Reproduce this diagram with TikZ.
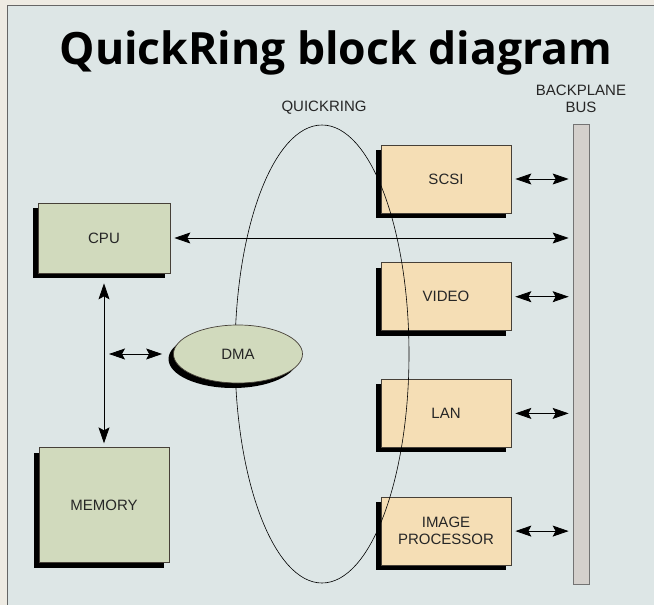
\documentclass[tikz,border=0pt]{standalone}
\usepackage{fontspec}
\setmainfont{Liberation Sans}
\newfontfamily\titlefont{Open Sans}
\usepackage{xcolor}
\usepackage{tikz}
\usetikzlibrary{shapes.geometric, arrows.meta, positioning, shadows}

\definecolor{paper}{RGB}{238,235,227}
\definecolor{panel}{RGB}{221,230,230}
\definecolor{sage}{RGB}{209,218,189}
\definecolor{peach}{RGB}{245,222,181}
\definecolor{barfill}{RGB}{212,208,204}
\definecolor{edge}{RGB}{70,64,56}

\begin{document}
\begin{tikzpicture}[
    x=1pt, y=-1pt,
    node distance=48pt,
    blk/.style={rectangle, draw=edge, line width=0.7pt, inner sep=0pt,
                minimum width=130pt, minimum height=68pt, text=black!85,
                font=\fontsize{15}{17}\selectfont, align=center,
                drop shadow={shadow xshift=-5pt, shadow yshift=-5pt,
                             fill=black, opacity=1}},
    board/.style={blk, fill=peach},
    host/.style={blk, fill=sage},
    rel/.style={line width=0.8pt,
                {Stealth[length=16pt, width=11pt, inset=3pt]}-{Stealth[length=16pt, width=11pt, inset=3pt]}},
    lbl/.style={font=\fontsize{15}{17}\selectfont, align=center,
                text=black!85, inner sep=0pt}
]
\useasboundingbox (0,0) rectangle (654,605);
\fill[paper] (0,0) rectangle (654,605);
\fill[panel] (7,5) rectangle (654,605);
\draw[black!60, line width=1pt] (7,605) -- (7,5) -- (654,5);

\node[font=\titlefont\bfseries\fontsize{44.5}{48}\selectfont, inner sep=0pt,
      anchor=base] (title) at (336,64) {QuickRing block diagram};

% backplane bus
\node[draw=black!55, fill=barfill, line width=0.7pt, inner sep=0pt,
      minimum width=16pt, minimum height=460pt] (bus) at (581,354) {};
\node[lbl] (buslbl) at (581,99) {BACKPLANE\\BUS};

% cards on the bus
\node[board] (scsi) at (446,179) {SCSI};
\node[board, below=49pt of scsi] (video) {VIDEO};
\node[board, below=48pt of video] (lan) {LAN};
\node[board, below=49pt of lan] (imgproc) {IMAGE\\PROCESSOR};

% host side
\node[host, minimum width=132pt, minimum height=70pt] (cpu) at (104,238) {CPU};
\node[host, minimum height=115pt, below=174pt of cpu] (memory) {MEMORY};

% the ring
\node[draw, ellipse, line width=0.6pt, inner sep=0pt,
      minimum width=174pt, minimum height=458pt] (ring) at (322,354) {};
\node[lbl] (ringlbl) at (324,108) {QUICKRING};

\node[ellipse, draw=edge, fill=sage, line width=0.7pt, inner sep=0pt,
      minimum width=129pt, minimum height=58pt, text=black!85,
      font=\fontsize{15}{17}\selectfont,
      drop shadow={shadow xshift=-5pt, shadow yshift=-5pt, fill=black, opacity=1}]
      (dma) at (238,354) {DMA};

\draw[rel] ([xshift=4pt]scsi.east) -- ([xshift=-4pt]bus.west |- scsi.east);
\draw[rel] ([xshift=4pt]video.east) -- ([xshift=-4pt]bus.west |- video.east);
\draw[rel] ([xshift=4pt]lan.east) -- ([xshift=-4pt]bus.west |- lan.east);
\draw[rel] ([xshift=4pt]imgproc.east) -- ([xshift=-4pt]bus.west |- imgproc.east);
\draw[rel] ([xshift=4pt]cpu.east) -- ([xshift=-4pt]bus.west |- cpu.east);
\draw[rel] ([yshift=-10pt]cpu.south) -- ([yshift=4pt]memory.north);
\draw[rel] ([xshift=5pt]cpu.south |- dma.west) -- ([xshift=-11pt]dma.west);

\end{tikzpicture}
\end{document}
